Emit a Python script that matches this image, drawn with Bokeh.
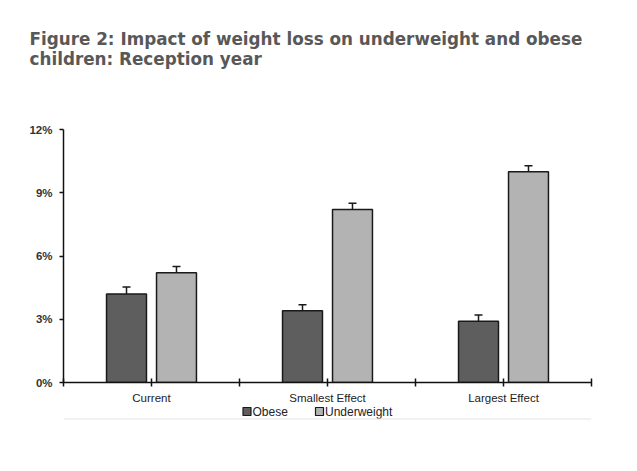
from bokeh.plotting import figure
from bokeh.layouts import column
from bokeh.models import (ColumnDataSource, Range1d, FixedTicker, PrintfTickFormatter,
                          Whisker, TeeHead, Title)
from bokeh.core.properties import value
from bokeh.embed import file_html
from bokeh.resources import INLINE

categories = ["Current", "Smallest Effect", "Largest Effect"]
series = ["Obese", "Underweight"]
obese = [4.2, 3.4, 2.9]
obese_err = [0.33, 0.29, 0.3]
underweight = [5.2, 8.2, 10.0]
underweight_err = [0.3, 0.3, 0.28]
y_ticks = [0, 3, 6, 9, 12]
title_lines = ["Figure 2: Impact of weight loss on underweight and obese",
               "children: Reception year"]
colors = ["#5e5e5e", "#b3b3b3"]

FONT = "Liberation Sans"
TFONT = "DejaVu Sans"
W = 630
FT, FB = 129, 383
FL, FR = 63, 591
CH = FB + 23
p = figure(width=W, height=CH, output_backend="svg", toolbar_location=None,
           x_range=Range1d(0, len(categories)), y_range=Range1d(0, 12),
           min_border_left=FL, min_border_right=W - FR, min_border_top=FT,
           min_border_bottom=CH - FB)
p.outline_line_color = None
p.grid.grid_line_color = None

centers = [i + 0.5 for i in range(len(categories))]
off = 0.142
bw = 0.227
src_o = ColumnDataSource(dict(x=[c - off for c in centers], top=obese,
                              upper=[v + e for v, e in zip(obese, obese_err)]))
src_u = ColumnDataSource(dict(x=[c + off for c in centers], top=underweight,
                              upper=[v + e for v, e in zip(underweight, underweight_err)]))

p.vbar(x="x", top="top", width=bw, source=src_o, fill_color=colors[0],
       line_color="#1a1a1a", line_width=1.5)
p.vbar(x="x", top="top", width=bw, source=src_u, fill_color=colors[1],
       line_color="#1a1a1a", line_width=1.5)

for src in (src_o, src_u):
    w = Whisker(source=src, base="x", upper="upper", lower="top",
                line_color="#1a1a1a", line_width=1.5,
                upper_head=TeeHead(size=8, line_color="#1a1a1a", line_width=1.5),
                lower_head=None)
    p.add_layout(w)

xt = [i * 0.5 for i in range(2 * len(categories) + 1)]
p.xaxis.ticker = FixedTicker(ticks=xt)
p.xaxis.major_label_overrides = {t: (categories[int(t)] if (t * 2) % 2 == 1 else "") for t in xt}
p.xaxis.major_tick_in = 4
p.xaxis.major_tick_out = 4
p.xaxis.minor_tick_line_color = None
p.xaxis.axis_line_width = 1.5
p.xaxis.major_tick_line_width = 1.5
p.xaxis.axis_line_color = "#111111"
p.xaxis.major_tick_line_color = "#111111"
p.xaxis.major_label_text_font = FONT
p.xaxis.major_label_text_font_size = "11.5px"
p.xaxis.major_label_text_color = "#222222"
p.xaxis.major_label_standoff = 5

p.yaxis.ticker = FixedTicker(ticks=y_ticks)
p.yaxis.formatter = PrintfTickFormatter(format="%d%%")
p.yaxis.major_tick_in = 0
p.yaxis.major_tick_out = 4
p.yaxis.minor_tick_line_color = None
p.yaxis.axis_line_width = 1.5
p.yaxis.major_tick_line_width = 1.5
p.yaxis.axis_line_color = "#111111"
p.yaxis.major_tick_line_color = "#111111"
p.yaxis.major_label_text_font = FONT
p.yaxis.major_label_text_font_size = "11.5px"
p.yaxis.major_label_text_font_style = "bold"
p.yaxis.major_label_text_color = "#333333"
p.yaxis.major_label_standoff = 7

# titles: nearest to the frame first (a blank spacer, then line 2, then line 1)
p.add_layout(Title(text=" ", text_font_size="18px", standoff=40), "above")
for t in reversed(title_lines):
    p.add_layout(Title(text=t, align="left", offset=-(FL - 29),
                       text_font=TFONT, text_font_size="16.8px", text_font_style="bold",
                       text_color="#585858", standoff=-2), "above")

# ---- footer: legend key and thin rule ----
FH = 20
ff = figure(width=W, height=FH, output_backend="svg", toolbar_location=None,
            x_range=Range1d(FL, FR), y_range=Range1d(FH, 0),
            min_border_left=FL, min_border_right=W - FR, min_border_top=0,
            min_border_bottom=0, x_axis_type=None, y_axis_type=None)
ff.outline_line_color = None
ff.grid.grid_line_color = None
key_x = [246.5, 319]
ff.scatter(x=key_x, y=[5, 5], marker="square", size=8, fill_color=colors,
           line_color="#1a1a1a", line_width=1.2)
ff.text(x=[k + 5.5 for k in key_x], y=[5, 5], text=series, text_font=value(FONT),
        text_font_size="12px", text_color="#222222", text_baseline="middle",
        text_align="left")
ff.line(x=[FL, FR], y=[12.5, 12.5], line_color="#e3e3e3", line_width=1)

layout = column(p, ff, spacing=0)
open("out.html", "w").write(file_html(layout, INLINE))
